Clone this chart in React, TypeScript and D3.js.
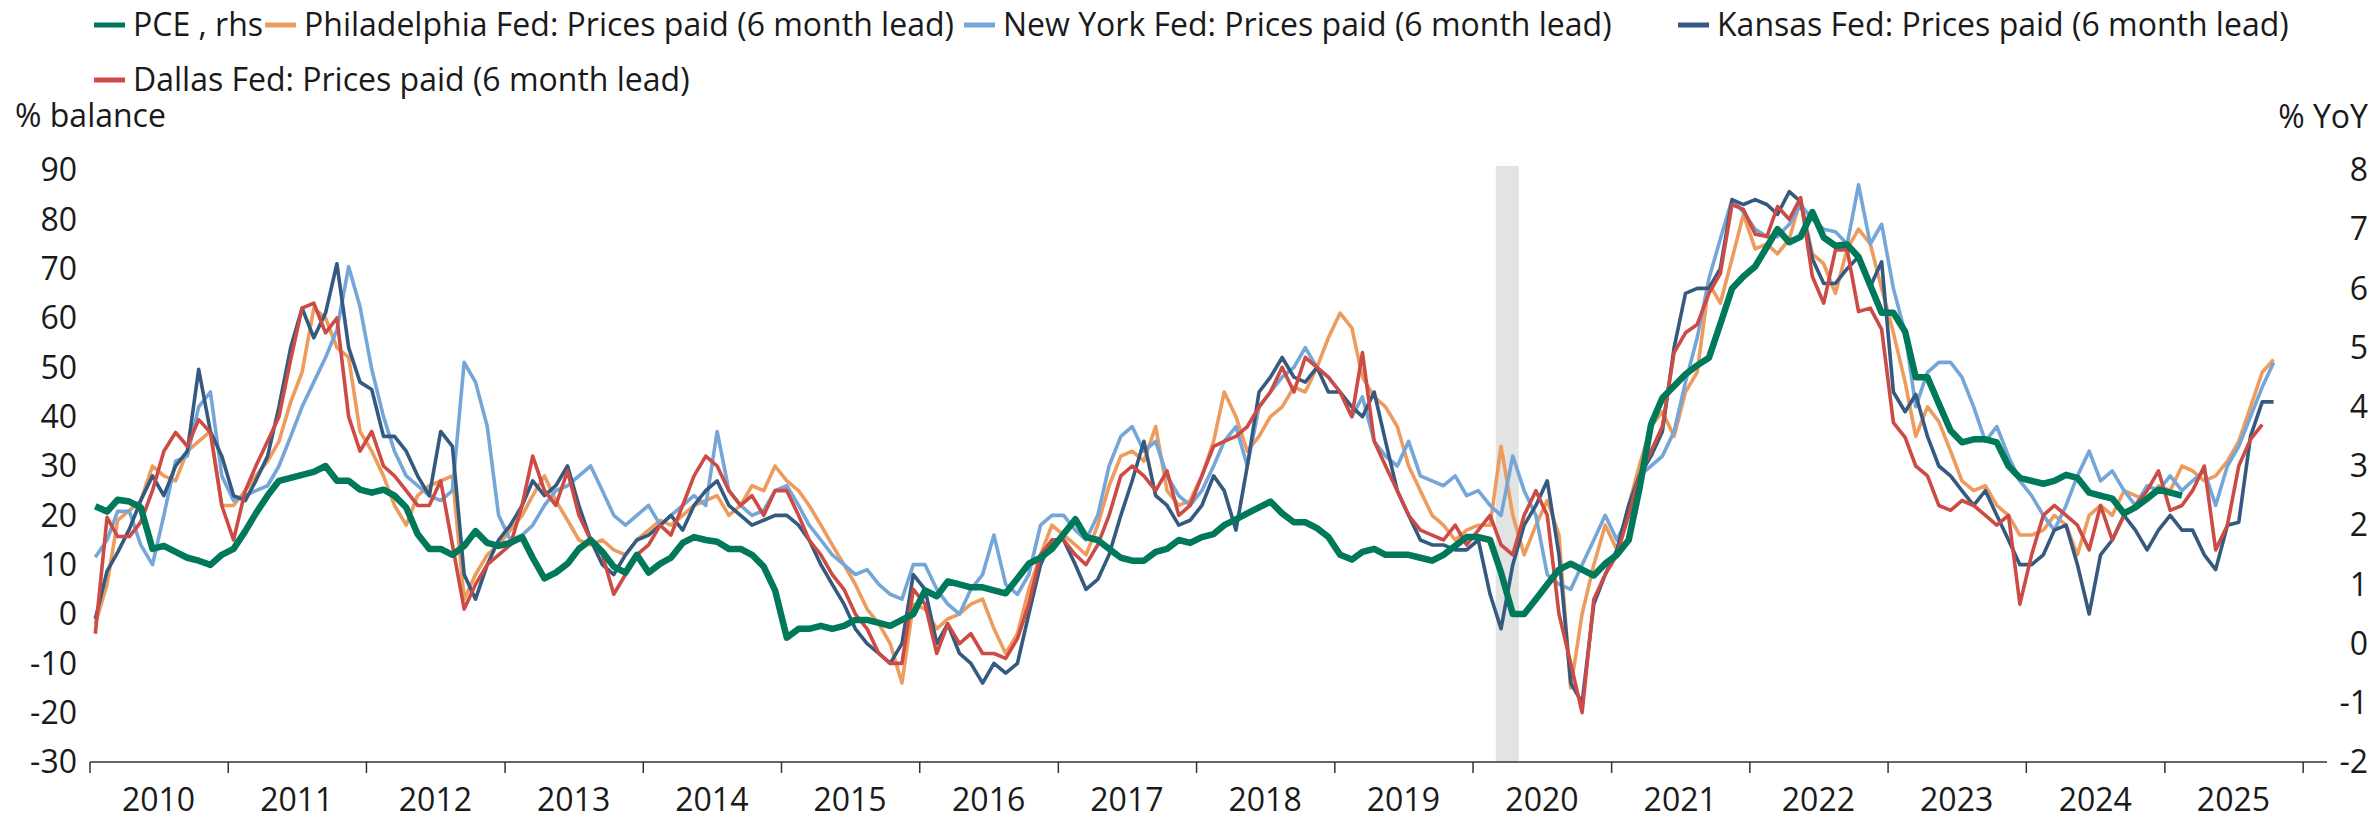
import React from "react";
import * as d3 from "d3";

// monthly series, first value = Jan 2010
const pce = [
  2.32, 2.23, 2.43, 2.4, 2.3, 1.6, 1.65, 1.55, 1.45, 1.4, 1.33, 1.5,
  1.6, 1.9, 2.2, 2.5, 2.75, 2.8, 2.85, 2.9, 3.0, 2.75, 2.75, 2.6,
  2.55, 2.6, 2.5, 2.3, 1.85, 1.6, 1.6, 1.5, 1.65, 1.9, 1.7, 1.65,
  1.7, 1.8, 1.45, 1.1, 1.2, 1.35, 1.6, 1.75, 1.55, 1.3, 1.2, 1.5,
  1.2, 1.35, 1.45, 1.7, 1.8, 1.75, 1.72, 1.6, 1.6, 1.5, 1.3, 0.9,
  0.1, 0.25, 0.25, 0.3, 0.25, 0.3, 0.4, 0.4, 0.35, 0.3, 0.4, 0.5,
  0.9, 0.8, 1.05, 1.0, 0.95, 0.95, 0.9, 0.85, 1.1, 1.35, 1.45, 1.6,
  1.85, 2.1, 1.8, 1.75, 1.6, 1.45, 1.4, 1.4, 1.55, 1.6, 1.75, 1.7,
  1.8, 1.85, 2.0, 2.1, 2.2, 2.3, 2.4, 2.2, 2.05, 2.05, 1.95, 1.8,
  1.5, 1.42, 1.55, 1.6, 1.5, 1.5, 1.5, 1.45, 1.4, 1.5, 1.65, 1.8,
  1.8, 1.75, 1.2, 0.5, 0.5, 0.75, 1.0, 1.25, 1.35, 1.25, 1.15, 1.35,
  1.5, 1.75, 2.6, 3.7, 4.15, 4.35, 4.55, 4.7, 4.83, 5.4, 6.0, 6.2,
  6.37, 6.7, 7.0, 6.78, 6.87, 7.29, 6.86, 6.72, 6.74, 6.53, 6.05, 5.59,
  5.59, 5.27, 4.5, 4.5, 4.05, 3.6, 3.4, 3.45, 3.45, 3.4, 3.0, 2.8,
  2.75, 2.7, 2.75, 2.85, 2.8, 2.55, 2.5, 2.45, 2.2, 2.3, 2.45, 2.6,
  2.55, 2.5,
];

const philly = [
  -2, 6, 19, 21, 23, 30, 28, 27, 33, 35, 37, 22,
  22, 25, 28, 31, 35, 43, 49, 62, 60, 54, 52, 37,
  33, 28, 22, 18, 24, 26, 27, 28, 3, 8, 12, 14,
  17, 20, 24, 28, 23, 19, 15, 14, 15, 13, 12, 15,
  17, 19, 18, 20, 22, 23, 24, 20, 22, 26, 25, 30,
  27, 25, 22, 18, 14, 10, 6, 1, -2, -6, -14, 2,
  1, -3, -1, 0, 2, 3, -3, -8, -4, 5, 12, 18,
  16, 14, 12, 18, 26, 32, 33, 31, 38, 25, 22, 23,
  28, 35, 45, 40, 33, 36, 40, 42, 46, 45, 50, 56,
  61, 58, 48, 44, 42, 38, 30, 25, 20, 18, 15, 17,
  18, 18, 34, 20, 12, 18, 23, 16, -15, 0, 10, 18,
  13, 22, 30, 38, 41, 36, 45, 49, 67, 63, 72, 81,
  74, 75, 73, 76, 84, 73, 71, 65, 74, 78, 75, 66,
  57, 47, 36, 42, 39, 33, 27, 25, 26, 22, 20, 16,
  16, 17, 20, 18, 12, 20, 22, 20, 25, 24, 23, 26,
  25, 30, 29, 27, 28, 31, 35, 42, 49, 51.6,
];

const newYork = [
  11.5, 15, 20.8, 20.8, 14, 10, 20, 31, 32, 42, 45, 28,
  23, 24, 25, 26, 30, 36, 42, 47, 52, 57.6, 70.4, 62.3,
  49.6, 40, 33, 28, 26, 24, 23, 25, 51, 47, 38, 20,
  15, 16, 18, 22, 25, 26, 28, 30, 25, 20, 18, 20,
  22, 18, 20, 22, 24, 22, 37, 25, 22, 20, 21, 25,
  26, 22, 18, 15, 12, 10, 8, 9, 6, 4, 3, 10,
  10, 5, 2, 0, 5, 8, 16, 6, 4, 8, 18, 20,
  20, 17, 15, 20, 30, 36, 38, 33, 35, 28, 24, 22,
  25, 30, 35, 38, 30, 42, 45, 48, 50, 54, 50, 48,
  45, 40, 44, 35, 32, 30, 35, 28, 27, 26, 28, 24,
  25, 22, 20, 32, 25, 20, 8, 6, 5, 10, 15, 20,
  15, 20, 28, 30, 32, 37, 47, 56, 68, 76, 84, 81.5,
  78, 76.5, 76.5, 79, 83, 80, 78, 77.5, 75, 87, 75, 79,
  66, 57, 42, 49, 51, 51, 48, 42, 35, 38, 32, 27,
  24, 20, 17, 22, 28, 33, 27, 29, 25, 22, 26, 25,
  28, 25, 27, 29, 22, 30, 34, 40, 46, 51,
];

const kansas = [
  -1, 8.7, 12.5, 17.2, 23, 28, 24, 30, 33, 49.6, 37, 32,
  24, 23, 27, 32, 42, 54, 62, 56, 61, 71, 54, 47,
  45.5, 36, 36, 33, 28, 24, 37, 34, 8, 3, 10, 15,
  18, 22, 27, 24, 26, 30, 22, 15, 10, 8, 12, 15,
  16, 18, 20, 17, 22, 25, 27, 22, 20, 18, 19, 20,
  20, 18, 15, 10, 6, 2, -3, -6, -8, -10, -6, 8,
  5, -6, -2, -8, -10, -14, -10, -12, -10, 0, 10, 15,
  15, 10, 5, 7, 12, 20, 27, 35, 24, 22, 18, 19,
  22, 28, 25, 17, 30, 45, 48, 52, 48, 47, 50, 45,
  45, 42, 40, 45, 35, 25, 20, 15, 14, 14, 13, 13,
  15, 4, -3, 10, 18, 22, 27, 12, -14, -18, 2, 8,
  13, 22, 28, 32, 37, 54, 65, 66, 66, 70, 84, 83,
  84, 83, 81, 85.6, 83.6, 72, 67, 67, 70, 72.4, 66.4, 71.4,
  45, 41, 44.5, 36, 30, 28, 25, 22, 25, 20, 15, 10,
  10, 12, 17, 18, 10, 0, 12, 15, 20, 17, 13, 17,
  20, 17, 17, 12, 9, 18, 18.6, 36, 43, 43,
];

const dallas = [
  -4, 19.6, 15.7, 15.7, 18.6, 25, 33, 36.8, 34, 39.4, 36.8, 22,
  15, 25, 30, 35, 40, 51.6, 62, 63, 57, 60, 40, 33,
  37, 30, 28, 25, 22, 22, 27, 14, 1, 6, 10, 12,
  14, 22, 32, 25, 22, 29, 20, 15, 12, 4, 8, 12,
  14, 18, 16, 22, 28, 32, 30, 25, 22, 24, 20, 25,
  25, 20, 15, 12, 8, 5, 0, -3, -8, -10, -10, 5,
  2, -8, -2, -6, -4, -8, -8, -9, -5, 2, 12, 15,
  15, 12, 10, 14, 20, 28, 30, 28, 25, 29, 20, 22,
  28, 34, 35, 36, 38, 42, 45, 50, 45, 52, 50, 48,
  45, 40, 53, 35, 30, 25, 20, 17, 16, 15, 18, 14,
  17, 20, 14, 12, 20, 25, 20, 0, -10, -20, 3, 8,
  12, 20, 28, 33, 38, 53, 57, 58.7, 65, 69, 83, 82,
  77, 76.5, 82.6, 80, 84.4, 68.4, 63, 73.8, 73.8, 61.3, 62, 57.7,
  38.8, 35.8, 30, 28, 22, 21, 23, 22, 20, 18, 20, 2,
  12, 20, 22, 20, 18, 13, 22, 15, 20, 22, 25, 29,
  21, 22, 25, 30, 13, 18, 30, 35.4, 38.4,
];

const leftTicks = d3.range(-30, 91, 10);
const rightTicks = d3.range(-2, 9, 1);
const years = d3.range(2010, 2026);
const recession = [new Date(2020, 2, 1), new Date(2020, 4, 1)];

const series = [
  { name: "Philadelphia Fed: Prices paid (6 month lead)", values: philly, color: "#EE9B5E", width: 3.6, axis: "left" },
  { name: "New York Fed: Prices paid (6 month lead)", values: newYork, color: "#75A6D8", width: 3.6, axis: "left" },
  { name: "Kansas Fed: Prices paid (6 month lead)", values: kansas, color: "#355A80", width: 3.6, axis: "left" },
  { name: "Dallas Fed: Prices paid (6 month lead)", values: dallas, color: "#CC4B45", width: 3.6, axis: "left" },
  { name: "PCE , rhs", values: pce, color: "#00785A", width: 6.5, axis: "right" },
];

const legendRows = [
  [
    { label: "PCE , rhs", color: "#00785A", x: 94 },
    { label: "Philadelphia Fed: Prices paid (6 month lead)", color: "#EE9B5E", x: 265 },
    { label: "New York Fed: Prices paid (6 month lead)", color: "#75A6D8", x: 964 },
    { label: "Kansas Fed: Prices paid (6 month lead)", color: "#355A80", x: 1678 },
  ],
  [{ label: "Dallas Fed: Prices paid (6 month lead)", color: "#CC4B45", x: 94 }],
];

const W = 2377;
const H = 819;
const FONT = "'Segoe UI', 'Open Sans', sans-serif";
const FS = 32;

export default function App() {
  const x = d3
    .scaleTime()
    .domain([new Date(2010, 0, 1), new Date(2026, 2, 5)])
    .range([90, 2327]);
  const yLeft = d3.scaleLinear().domain([-30, 90]).range([762, 170]);
  const yRight = d3.scaleLinear().domain([-2, 8]).range([762, 170]);

  const monthDate = (i: number) => new Date(2010 + Math.floor(i / 12), i % 12, 15);

  const lineFor = (axis: string) =>
    d3
      .line<number>()
      .x((_, i) => x(monthDate(i)))
      .y((d) => (axis === "left" ? yLeft(d) : yRight(d)));

  const yearTicks = years.map((y) => new Date(y, 0, 1)).concat([new Date(2026, 0, 1)]);

  return (
    <svg
      width={W}
      height={H}
      style={{ position: "absolute", left: 0, top: 0, background: "#fff" }}
      fontFamily={FONT}
    >
      {/* legend */}
      {legendRows.map((row, r) =>
        row.map((item) => (
          <g key={item.label} transform={`translate(${item.x},${25 + r * 55})`}>
            <rect x={0} y={-2.5} width={31} height={5} fill={item.color} />
            <text x={39} y={0} dy="0.35em" fontSize={FS} fill="#1a1a1a">
              {item.label}
            </text>
          </g>
        ))
      )}

      {/* axis titles */}
      <text x={15} y={116} dy="0.35em" fontSize={FS} fill="#1a1a1a">
        % balance
      </text>
      <text x={2368} y={117} dy="0.35em" fontSize={FS} fill="#1a1a1a" textAnchor="end">
        % YoY
      </text>

      {/* recession shading */}
      <rect
        x={x(recession[0])}
        y={yLeft(90) - 4}
        width={x(recession[1]) - x(recession[0])}
        height={yLeft(-30) - yLeft(90) + 4}
        fill="#E2E3E3"
      />

      {/* left ticks */}
      {leftTicks.map((t) => (
        <text key={"l" + t} x={77} y={yLeft(t)} dy="0.35em" fontSize={FS} textAnchor="end" fill="#1a1a1a">
          {t}
        </text>
      ))}
      {/* right ticks */}
      {rightTicks.map((t) => (
        <text key={"r" + t} x={2368} y={yRight(t)} dy="0.35em" fontSize={FS} textAnchor="end" fill="#1a1a1a">
          {t}
        </text>
      ))}

      {/* x axis */}
      <line x1={90} x2={2327} y1={762} y2={762} stroke="#333" strokeWidth={1.5} />
      {yearTicks.map((d) => (
        <line key={+d} x1={x(d)} x2={x(d)} y1={762} y2={773} stroke="#333" strokeWidth={1.5} />
      ))}
      {years.map((y) => (
        <text
          key={"y" + y}
          x={x(new Date(y, 6, 1))}
          y={800}
          dy="0.35em"
          fontSize={FS}
          textAnchor="middle"
          fill="#1a1a1a"
        >
          {y}
        </text>
      ))}

      {/* lines */}
      {series.map((s) => (
        <path
          key={s.name}
          d={lineFor(s.axis)(s.values) || ""}
          fill="none"
          stroke={s.color}
          strokeWidth={s.width}
          strokeLinejoin="round"
        />
      ))}
    </svg>
  );
}
